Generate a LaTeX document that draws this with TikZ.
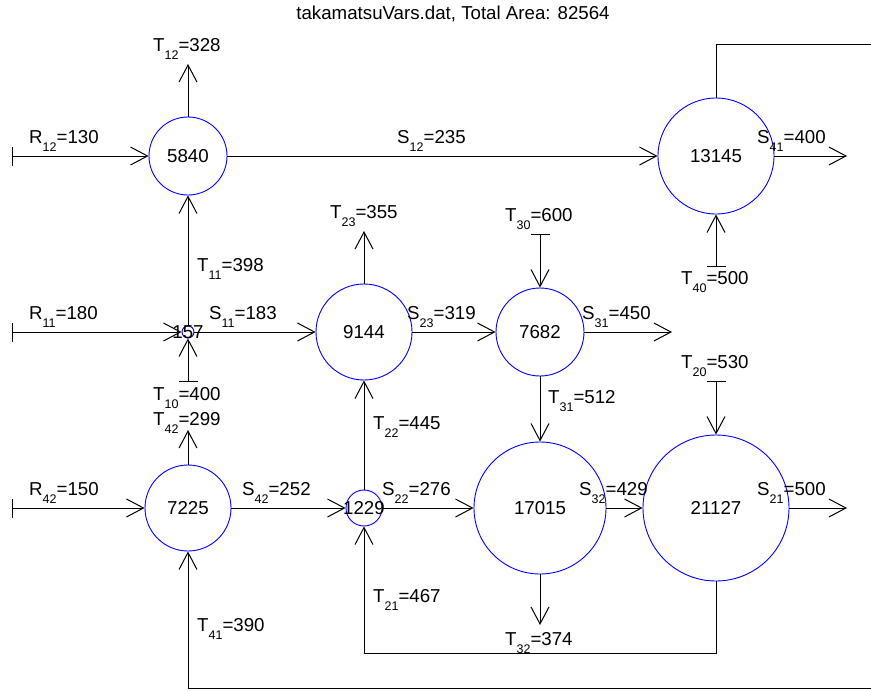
\documentclass[tikz,border=0pt]{standalone}
\usepackage{fontspec}
\setmainfont{Liberation Sans}
\usetikzlibrary{arrows.meta}
\definecolor{PoolBlue}{RGB}{0,0,255}
\newcommand{\flowlbl}[3]{#1\raisebox{-8.5pt}{\fontsize{12.5}{13}\selectfont #2}=#3}
\tikzset{
  pool/.style={circle, draw=PoolBlue, line width=0.9pt, inner sep=0pt, minimum size=#1},
  flow/.style={draw=black, line width=1pt, -{Straight Barb[length=17pt,width=18pt]}},
  feed/.style={draw=black, line width=1pt, {Bar[width=19pt]}-{Straight Barb[length=17pt,width=18pt]}},
  tag/.style={anchor=base west, inner sep=0pt},
}

\begin{document}
\begin{tikzpicture}[x=1pt, y=-1pt, font=\fontsize{18.7}{23}\selectfont]
    \useasboundingbox (0,0) rectangle (871,691);
    \clip (0,0) rectangle (871,691);

    \node[anchor=base, inner sep=0pt] (title) at (453,19) {takamatsuVars.dat, Total Area: 82564};

    \node[pool=78pt, label=center:5840] (n5840) at (188,156) {};
    \node[pool=116pt, label=center:13145] (n13145) at (716,156) {};
    \node[pool=12pt, label=center:157] (n157) at (188,332) {};
    \node[pool=96pt, label=center:9144] (n9144) at (364,332) {};
    \node[pool=88pt, label=center:7682] (n7682) at (540,332) {};
    \node[pool=86pt, label=center:7225] (n7225) at (188,508) {};
    \node[pool=36pt, label=center:1229] (n1229) at (364,508) {};
    \node[pool=132pt, label=center:17015] (n17015) at (540,508) {};
    \node[pool=146pt, label=center:21127] (n21127) at (716,508) {};

    \coordinate (r12) at (12,156);
    \coordinate (t12) at (188,64);
    \coordinate (s41) at (847,156);
    \coordinate (t40) at (716,267);
    \coordinate (r11) at (12,332);
    \coordinate (t10) at (188,382);
    \coordinate (t23) at (364,231);
    \coordinate (t30) at (540,234);
    \coordinate (s31) at (672,332);
    \coordinate (t42) at (188,430);
    \coordinate (r42) at (12,508);
    \coordinate (t20) at (716,381);
    \coordinate (s21) at (847,508);
    \coordinate (t32) at (540,625);
    \coordinate (ret21) at (364,653);
    \coordinate (ret41a) at (890,44);
    \coordinate (ret41b) at (890,688);

    \draw[feed] (r12) -- (n5840.west);
    \draw[flow] (n5840.north) -- (t12);
    \draw[flow] (n5840.east) -- (n13145.west);
    \draw[flow] (n13145.east) -- (s41);
    \draw[feed] (t40) -- (n13145.south);
    \draw[flow] (n13145.north) |- (ret41a) -- (ret41b) -| (n7225.south);

    \draw[feed] (r11) -- (n157.west);
    \draw[flow] (n157.north) -- (n5840.south);
    \draw[flow] (n157.east) -- (n9144.west);
    \draw[feed] (t10) -- (n157.south);
    \draw[flow] (n9144.north) -- (t23);
    \draw[flow] (n9144.east) -- (n7682.west);
    \draw[feed] (t30) -- (n7682.north);
    \draw[flow] (n7682.east) -- (s31);
    \draw[flow] (n7682.south) -- (n17015.north);

    \draw[flow] (n7225.north) -- (t42);
    \draw[feed] (r42) -- (n7225.west);
    \draw[flow] (n7225.east) -- (n1229.west);
    \draw[flow] (n1229.north) -- (n9144.south);
    \draw[flow] (n1229.east) -- (n17015.west);
    \draw[flow] (n17015.east) -- (n21127.west);
    \draw[flow] (n17015.south) -- (t32);
    \draw[flow] (n21127.east) -- (s21);
    \draw[feed] (t20) -- (n21127.north);
    \draw[flow] (n21127.south) |- (ret21) -- (n1229.south);

    \node[tag] (lt12) at (153,51) {\flowlbl{T}{12}{328}};
    \node[tag] (lr12) at (29,143) {\flowlbl{R}{12}{130}};
    \node[tag] (ls12) at (397,143) {\flowlbl{S}{12}{235}};
    \node[tag] (ls41) at (757,143) {\flowlbl{S}{41}{400}};
    \node[tag] (lt40) at (681,284) {\flowlbl{T}{40}{500}};
    \node[tag] (lt23) at (330,218) {\flowlbl{T}{23}{355}};
    \node[tag] (lt30) at (505,221) {\flowlbl{T}{30}{600}};
    \node[tag] (lt11) at (197,271) {\flowlbl{T}{11}{398}};
    \node[tag] (lr11) at (29,319) {\flowlbl{R}{11}{180}};
    \node[tag] (ls11) at (209,319) {\flowlbl{S}{11}{183}};
    \node[tag] (ls23) at (407,319) {\flowlbl{S}{23}{319}};
    \node[tag] (ls31) at (582,319) {\flowlbl{S}{31}{450}};
    \node[tag] (lt10) at (153,400) {\flowlbl{T}{10}{400}};
    \node[tag] (lt42) at (153,425) {\flowlbl{T}{42}{299}};
    \node[tag] (lt22) at (373,429) {\flowlbl{T}{22}{445}};
    \node[tag] (lt31) at (548,403) {\flowlbl{T}{31}{512}};
    \node[tag] (lt20) at (681,368) {\flowlbl{T}{20}{530}};
    \node[tag] (lr42) at (29,495) {\flowlbl{R}{42}{150}};
    \node[tag] (ls42) at (242,495) {\flowlbl{S}{42}{252}};
    \node[tag] (ls22) at (382,495) {\flowlbl{S}{22}{276}};
    \node[tag] (ls32) at (579,495) {\flowlbl{S}{32}{429}};
    \node[tag] (ls21) at (757,495) {\flowlbl{S}{21}{500}};
    \node[tag] (lt21) at (373,602) {\flowlbl{T}{21}{467}};
    \node[tag] (lt41) at (197,631) {\flowlbl{T}{41}{390}};
    \node[tag] (lt32) at (505,645) {\flowlbl{T}{32}{374}};
\end{tikzpicture}
\end{document}
